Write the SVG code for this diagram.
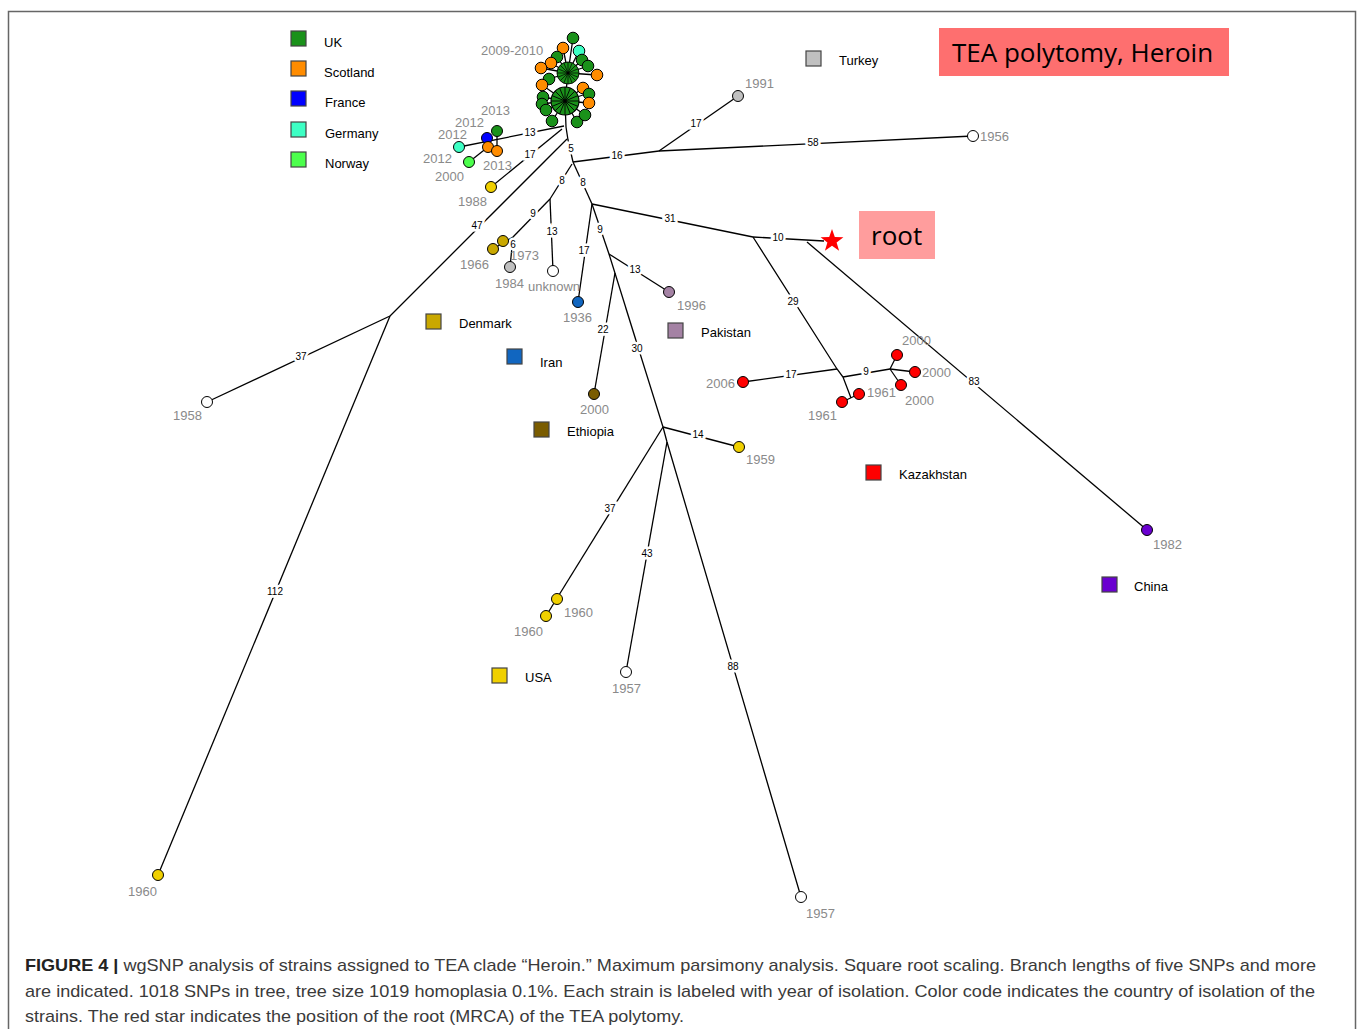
<svg xmlns="http://www.w3.org/2000/svg" xmlns:xlink="http://www.w3.org/1999/xlink" width="1358" height="1029" viewBox="0 0 1358 1029">
<style>
.e{stroke:#000;stroke-width:1.3;fill:none}
.n{stroke:#000;stroke-width:1;}
.yr{font-family:"Liberation Sans",Arial,sans-serif;font-size:13px;fill:#8a8a8a}
.bl{font-family:"Liberation Sans",Arial,sans-serif;font-size:10px;fill:#000;stroke:#fff;stroke-width:5;paint-order:stroke;text-anchor:middle}
.lg{font-family:"Liberation Sans",Arial,sans-serif;font-size:13px;fill:#000}
.sq{stroke:#444;stroke-width:1.2}
.cap{font-family:"Liberation Sans",Arial,sans-serif;font-size:17px;fill:#3a3a3a}
.big{font-family:"Open Sans","Liberation Sans",sans-serif;font-size:26px;fill:#000}
.uk{fill:#1a911a}.sc{fill:#ff8c00}.fr{fill:#0000ff}.de{fill:#3dffc4}.no{fill:#4cff4c}
.tu{fill:#c0c0c0}.dk{fill:#c9a800}.ir{fill:#1166c0}.pk{fill:#a482a4}.et{fill:#7a5c00}
.kz{fill:#ff0000}.cn{fill:#6a00d0}.us{fill:#f0d000}.un{fill:#fff}
</style>
<defs>
<g id="hub">
<circle r="10" class="uk" stroke="#000" stroke-width="0.8"/>
<path d="M-10,0H10M0,-10V10M-7.07,-7.07L7.07,7.07M-7.07,7.07L7.07,-7.07M-9.24,-3.83L9.24,3.83M-9.24,3.83L9.24,-3.83M-3.83,-9.24L3.83,9.24M-3.83,9.24L3.83,-9.24" stroke="#000" stroke-width="0.65" fill="none"/>
</g>
</defs>

<rect x="8.5" y="11.5" width="1347" height="1040" fill="none" stroke="#666" stroke-width="1.5"/>

<g id="connectors">
<polyline class="e" points="565,101 566,127 568,140 573,162"/>
<line class="e" x1="564" y1="126" x2="459" y2="147"/>
<line class="e" x1="497" y1="131" x2="497" y2="151"/>
<line class="e" x1="469" y1="162" x2="488" y2="147"/>
<line class="e" x1="562" y1="129" x2="491" y2="187"/>
<line class="e" x1="567" y1="139" x2="390" y2="316"/>
<line class="e" x1="390" y1="316" x2="207" y2="402"/>
<line class="e" x1="390" y1="316" x2="158" y2="875"/>
<line class="e" x1="573" y1="162" x2="659" y2="151"/>
<line class="e" x1="659" y1="151" x2="738" y2="96"/>
<line class="e" x1="659" y1="151" x2="973" y2="136"/>
<line class="e" x1="572" y1="164" x2="550" y2="199"/>
<line class="e" x1="550" y1="199" x2="513" y2="237"/>
<line class="e" x1="513" y1="237" x2="493" y2="249"/>
<line class="e" x1="513" y1="237" x2="510" y2="267"/>
<line class="e" x1="550" y1="199" x2="553" y2="271"/>
<line class="e" x1="573" y1="162" x2="592" y2="204"/>
<line class="e" x1="592" y1="204" x2="753" y2="237"/>
<line class="e" x1="592" y1="204" x2="578" y2="302"/>
<line class="e" x1="592" y1="204" x2="609" y2="254"/>
<line class="e" x1="753" y1="237" x2="824" y2="241"/>
<line class="e" x1="807" y1="242" x2="1147" y2="530"/>
<polyline class="e" points="753,237 837,369 843,377 851,398"/>
<line class="e" x1="837" y1="369" x2="743" y2="382"/>
<line class="e" x1="843" y1="377" x2="890" y2="369"/>
<line class="e" x1="890" y1="369" x2="897" y2="355"/>
<line class="e" x1="890" y1="369" x2="915" y2="372"/>
<line class="e" x1="890" y1="369" x2="901" y2="385"/>
<line class="e" x1="859" y1="394" x2="842" y2="402"/>
<line class="e" x1="609" y1="254" x2="669" y2="292"/>
<line class="e" x1="609" y1="254" x2="663" y2="427"/>
<line class="e" x1="615" y1="273" x2="594" y2="394"/>
<line class="e" x1="663" y1="427" x2="739" y2="447"/>
<line class="e" x1="663" y1="427" x2="546" y2="616"/>
<polyline class="e" points="663,427 667,442 801,897"/>
<line class="e" x1="667" y1="442" x2="626" y2="672"/>
<g class="e" stroke-width="1">
<line x1="568" y1="73" x2="573" y2="38"/><line x1="568" y1="73" x2="579" y2="51"/>
<line x1="568" y1="73" x2="563" y2="48"/><line x1="568" y1="73" x2="557" y2="57"/>
<line x1="568" y1="73" x2="551" y2="63"/><line x1="568" y1="73" x2="541" y2="68"/>
<line x1="568" y1="73" x2="582" y2="60"/><line x1="568" y1="73" x2="588" y2="66"/>
<line x1="568" y1="73" x2="597" y2="75"/><line x1="568" y1="73" x2="549" y2="79"/>
<line x1="568" y1="73" x2="565" y2="101"/>
<line x1="565" y1="101" x2="542" y2="85"/><line x1="565" y1="101" x2="583" y2="88"/>
<line x1="565" y1="101" x2="543" y2="97"/><line x1="565" y1="101" x2="542" y2="104"/>
<line x1="565" y1="101" x2="589" y2="103"/><line x1="565" y1="101" x2="546" y2="110"/>
<line x1="565" y1="101" x2="552" y2="121"/><line x1="565" y1="101" x2="577" y2="122"/>
<line x1="565" y1="101" x2="585" y2="115"/><line x1="565" y1="101" x2="589" y2="93"/>
</g>
<text class="bl" x="530" y="136">13</text>
<text class="bl" x="571" y="152">5</text>
<text class="bl" x="530" y="158">17</text>
<text class="bl" x="617" y="159">16</text>
<text class="bl" x="696" y="127">17</text>
<text class="bl" x="813" y="146">58</text>
<text class="bl" x="562" y="184">8</text>
<text class="bl" x="583" y="186">8</text>
<text class="bl" x="477" y="229">47</text>
<text class="bl" x="533" y="217">9</text>
<text class="bl" x="552" y="235">13</text>
<text class="bl" x="513" y="248">6</text>
<text class="bl" x="600" y="233">9</text>
<text class="bl" x="670" y="222">31</text>
<text class="bl" x="778" y="241">10</text>
<text class="bl" x="584" y="254">17</text>
<text class="bl" x="635" y="273">13</text>
<text class="bl" x="603" y="333">22</text>
<text class="bl" x="637" y="352">30</text>
<text class="bl" x="793" y="305">29</text>
<text class="bl" x="791" y="378">17</text>
<text class="bl" x="866" y="375">9</text>
<text class="bl" x="974" y="385">83</text>
<text class="bl" x="301" y="360">37</text>
<text class="bl" x="698" y="438">14</text>
<text class="bl" x="610" y="512">37</text>
<text class="bl" x="647" y="557">43</text>
<text class="bl" x="275" y="595">112</text>
<text class="bl" x="733" y="670">88</text>
</g>

<g id="cluster-uk-2009-2010">
<use xlink:href="#hub" href="#hub" transform="translate(568,73) scale(1.1)"/>
<use xlink:href="#hub" href="#hub" transform="translate(565,101) scale(1.4)"/>
<circle class="n uk" cx="573" cy="38" r="5.8"/>
<circle class="n de" cx="579" cy="51" r="5.8"/>
<circle class="n sc" cx="563" cy="48" r="5.8"/>
<circle class="n uk" cx="557" cy="57" r="5.8"/>
<circle class="n sc" cx="551" cy="63" r="5.8"/>
<circle class="n sc" cx="541" cy="68" r="5.8"/>
<circle class="n uk" cx="582" cy="60" r="5.8"/>
<circle class="n uk" cx="588" cy="66" r="5.8"/>
<circle class="n sc" cx="597" cy="75" r="5.8"/>
<circle class="n uk" cx="549" cy="79" r="5.8"/>
<circle class="n sc" cx="542" cy="85" r="5.8"/>
<circle class="n sc" cx="583" cy="88" r="5.8"/>
<circle class="n uk" cx="589" cy="94" r="5.8"/>
<circle class="n uk" cx="543" cy="97" r="5.8"/>
<circle class="n uk" cx="542" cy="104" r="5.8"/>
<circle class="n sc" cx="589" cy="103" r="5.8"/>
<circle class="n uk" cx="546" cy="110" r="5.8"/>
<circle class="n uk" cx="552" cy="121" r="5.8"/>
<circle class="n uk" cx="577" cy="122" r="5.8"/>
<circle class="n uk" cx="585" cy="115" r="5.8"/>
<text class="yr" x="481" y="55">2009-2010</text>
</g>

<g id="subcluster-2012">
<circle class="n de" cx="459" cy="147" r="5.5"/>
<circle class="n uk" cx="497" cy="131" r="5.5"/>
<circle class="n fr" cx="487" cy="138" r="5.5"/>
<circle class="n sc" cx="488" cy="147" r="5.5"/>
<circle class="n sc" cx="497" cy="151" r="5.5"/>
<circle class="n no" cx="469" cy="162" r="5.5"/>
<text class="yr" x="481" y="115">2013</text>
<text class="yr" x="455" y="127">2012</text>
<text class="yr" x="438" y="139">2012</text>
<text class="yr" x="423" y="163">2012</text>
<text class="yr" x="435" y="181">2000</text>
<text class="yr" x="483" y="170">2013</text>
</g>

<g id="n1988"><circle class="n us" cx="491" cy="187" r="5.5"/><text class="yr" x="458" y="206">1988</text></g>
<g id="n1991"><circle class="n tu" cx="738" cy="96" r="5.5"/><text class="yr" x="745" y="88">1991</text></g>
<g id="n1956"><circle class="n un" cx="973" cy="136" r="5.5"/><text class="yr" x="980" y="141">1956</text></g>
<g id="denmark"><circle class="n dk" cx="503" cy="241" r="5.5"/><circle class="n dk" cx="493" cy="249" r="5.5"/><text class="yr" x="460" y="269">1966</text><text class="yr" x="510" y="260">1973</text></g>
<g id="n1984"><circle class="n tu" cx="510" cy="267" r="5.5"/><text class="yr" x="495" y="288">1984</text></g>
<g id="unknown"><circle class="n un" cx="553" cy="271" r="5.5"/><text class="yr" x="528" y="291">unknown</text></g>
<g id="n1936"><circle class="n ir" cx="578" cy="302" r="5.5"/><text class="yr" x="563" y="322">1936</text></g>
<g id="n1996"><circle class="n pk" cx="669" cy="292" r="5.5"/><text class="yr" x="677" y="310">1996</text></g>
<g id="eth2000"><circle class="n et" cx="594" cy="394" r="5.5"/><text class="yr" x="580" y="414">2000</text></g>
<g id="kaz">
<circle class="n kz" cx="743" cy="382" r="5.5"/><text class="yr" x="706" y="388">2006</text>
<circle class="n kz" cx="897" cy="355" r="5.5"/><text class="yr" x="902" y="345">2000</text>
<circle class="n kz" cx="915" cy="372" r="5.5"/><text class="yr" x="922" y="377">2000</text>
<circle class="n kz" cx="901" cy="385" r="5.5"/><text class="yr" x="905" y="405">2000</text>
<circle class="n kz" cx="859" cy="394" r="5.5"/><text class="yr" x="867" y="397">1961</text>
<circle class="n kz" cx="842" cy="402" r="5.5"/><text class="yr" x="808" y="420">1961</text>
</g>
<g id="n1982"><circle class="n cn" cx="1147" cy="530" r="5.5"/><text class="yr" x="1153" y="549">1982</text></g>
<g id="n1958"><circle class="n un" cx="207" cy="402" r="5.5"/><text class="yr" x="173" y="420">1958</text></g>
<g id="n1960a"><circle class="n us" cx="158" cy="875" r="5.5"/><text class="yr" x="128" y="896">1960</text></g>
<g id="n1959"><circle class="n us" cx="739" cy="447" r="5.5"/><text class="yr" x="746" y="464">1959</text></g>
<g id="n1960b"><circle class="n us" cx="557" cy="599" r="5.5"/><text class="yr" x="564" y="617">1960</text><circle class="n us" cx="546" cy="616" r="5.5"/><text class="yr" x="514" y="636">1960</text></g>
<g id="n1957a"><circle class="n un" cx="626" cy="672" r="5.5"/><text class="yr" x="612" y="693">1957</text></g>
<g id="n1957b"><circle class="n un" cx="801" cy="897" r="5.5"/><text class="yr" x="806" y="918">1957</text></g>

<g id="root-star">
<polygon points="832,229 834.8,237.1 843.4,237.3 836.6,242.5 839.1,250.7 832,245.8 824.9,250.7 827.4,242.5 820.6,237.3 829.2,237.1" fill="#ff0000"/>
</g>

<g id="legend">
<rect class="sq uk" x="291" y="31" width="15" height="15"/><text class="lg" x="324" y="47">UK</text>
<rect class="sq sc" x="291" y="61" width="15" height="15"/><text class="lg" x="324" y="77">Scotland</text>
<rect class="sq fr" x="291" y="91" width="15" height="15"/><text class="lg" x="325" y="107">France</text>
<rect class="sq de" x="291" y="122" width="15" height="15"/><text class="lg" x="325" y="138">Germany</text>
<rect class="sq no" x="291" y="152" width="15" height="15"/><text class="lg" x="325" y="168">Norway</text>
<rect class="sq tu" x="806" y="51" width="15" height="15"/><text class="lg" x="839" y="65">Turkey</text>
<rect class="sq dk" x="426" y="314" width="15" height="15"/><text class="lg" x="459" y="328">Denmark</text>
<rect class="sq ir" x="507" y="349" width="15" height="15"/><text class="lg" x="540" y="367">Iran</text>
<rect class="sq pk" x="668" y="323" width="15" height="15"/><text class="lg" x="701" y="337">Pakistan</text>
<rect class="sq et" x="534" y="422" width="15" height="15"/><text class="lg" x="567" y="436">Ethiopia</text>
<rect class="sq kz" x="866" y="465" width="15" height="15"/><text class="lg" x="899" y="479">Kazakhstan</text>
<rect class="sq cn" x="1102" y="577" width="15" height="15"/><text class="lg" x="1134" y="591">China</text>
<rect class="sq us" x="492" y="668" width="15" height="15"/><text class="lg" x="525" y="682">USA</text>
</g>

<g id="title-box">
<rect x="939" y="28" width="290" height="48" fill="#fe6f6f"/>
<text class="big" x="952" y="62">TEA polytomy, Heroin</text>
</g>
<g id="root-box">
<rect x="859" y="211" width="76" height="48" fill="#ff9d9d"/>
<text class="big" x="871" y="245">root</text>
</g>

<g id="caption">
<text class="cap" x="25" y="971" textLength="1291" lengthAdjust="spacingAndGlyphs"><tspan font-weight="bold" fill="#222">FIGURE 4 |</tspan> wgSNP analysis of strains assigned to TEA clade “Heroin.” Maximum parsimony analysis. Square root scaling. Branch lengths of five SNPs and more</text>
<text class="cap" x="25" y="997" textLength="1290" lengthAdjust="spacingAndGlyphs">are indicated. 1018 SNPs in tree, tree size 1019 homoplasia 0.1%. Each strain is labeled with year of isolation. Color code indicates the country of isolation of the</text>
<text class="cap" x="25" y="1022" textLength="659" lengthAdjust="spacingAndGlyphs">strains. The red star indicates the position of the root (MRCA) of the TEA polytomy.</text>
</g>
</svg>
